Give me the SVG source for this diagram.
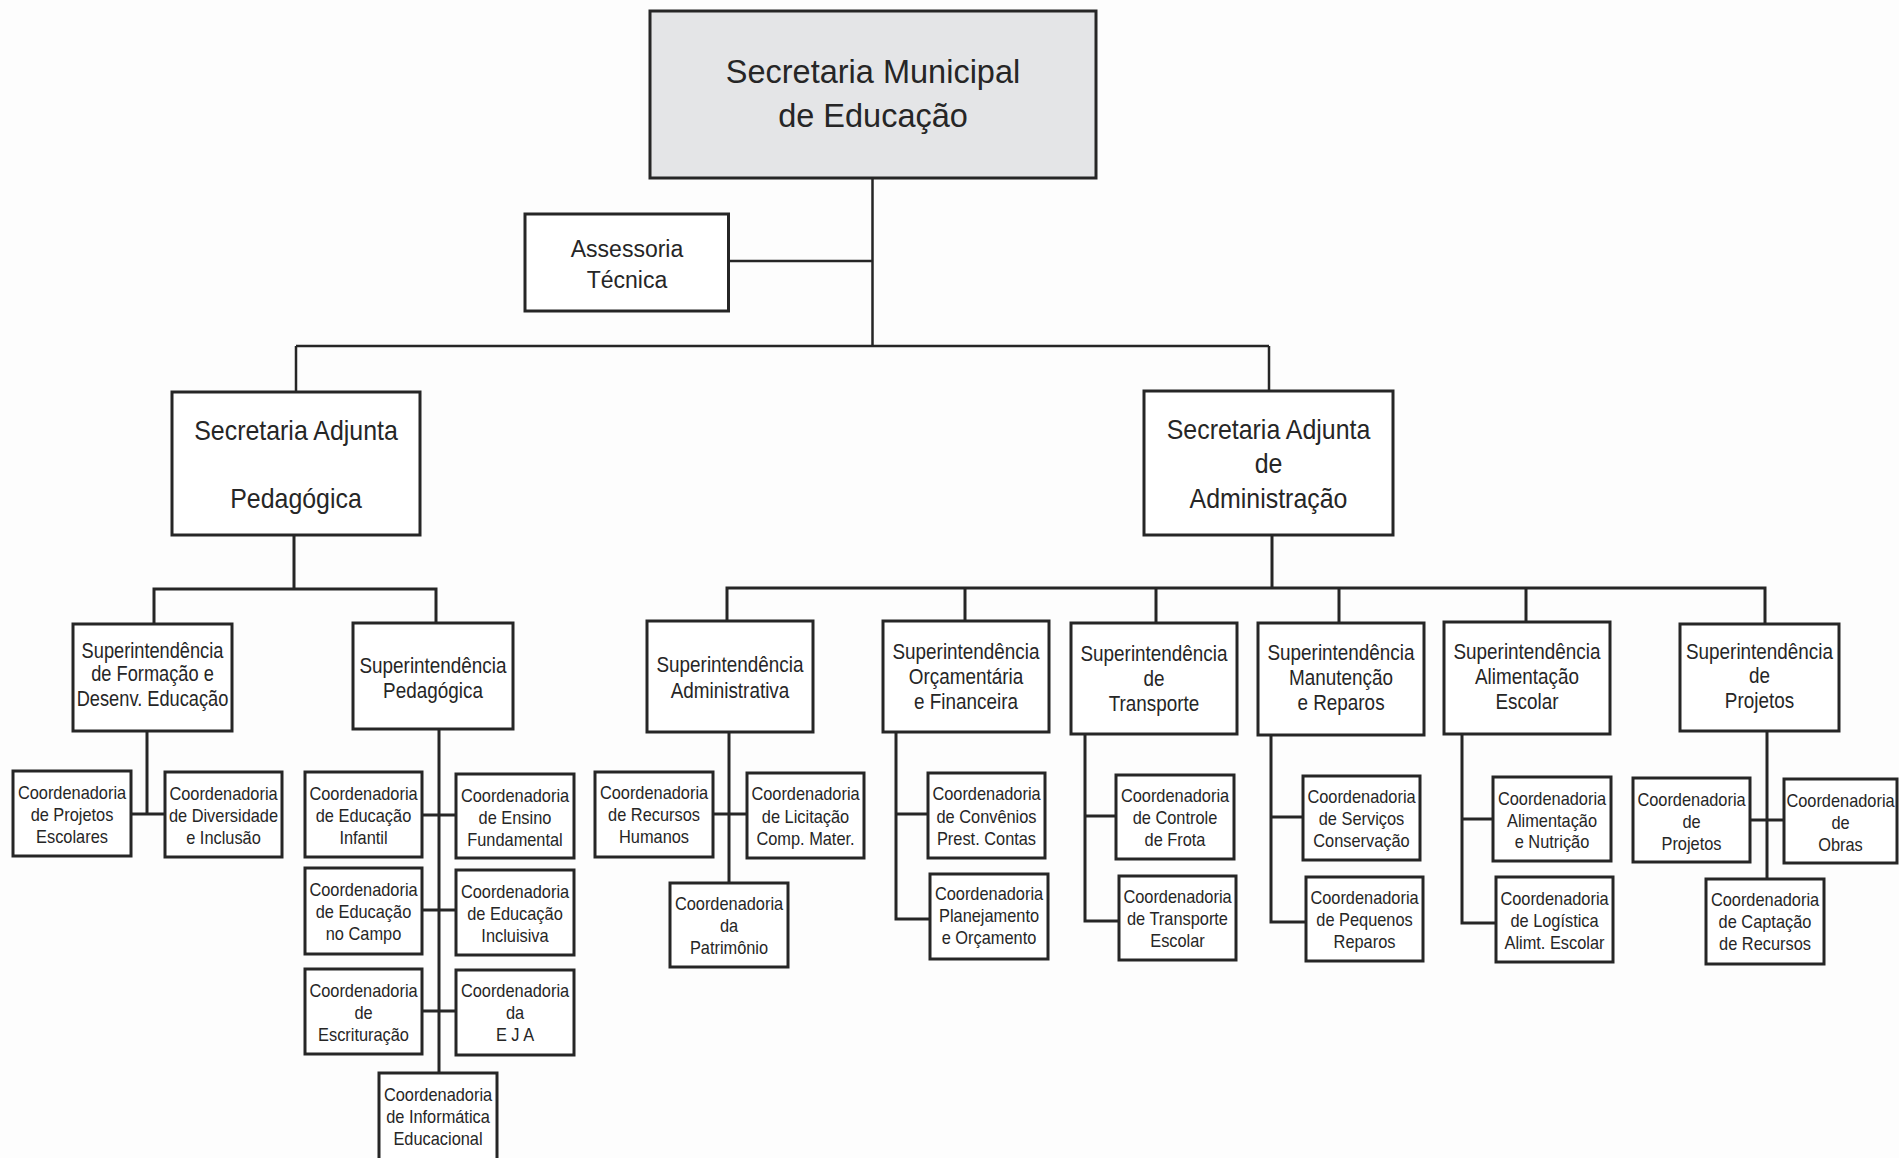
<svg xmlns="http://www.w3.org/2000/svg" width="1899" height="1158" viewBox="0 0 1899 1158">
<style>
.b{fill:#ffffff;stroke:#262626;stroke-width:3}
.top{fill:#e4e5e7;stroke:#262626;stroke-width:3}
.ln{stroke:#262626;stroke-width:3;fill:none;stroke-linecap:square}
.lt{stroke:#262626;stroke-width:2.5;fill:none}
text{font-family:"Liberation Sans",Arial,sans-serif;fill:#262626;text-anchor:middle}
.t1{font-size:32.5px}
.t2{font-size:23px}
.sa{font-size:28px}
.su{font-size:22.5px}
.co{font-size:18px}
</style>
<rect x="0" y="0" width="1899" height="1158" fill="#fdfdfd"/>
<g id="connectors">
<path class="lt" d="M872.5 178V346M728.5 261H872.5M296 346H1269M296 346V392M1269 346V391"/>
<path class="ln" d="M294 535V589M154 589H436M154 589V624M436 589V623"/>
<path class="ln" d="M1272 535V588M727 588H1765M727 588V621M965 588V621M1156 588V623M1339 588V623M1526 588V622M1765 588V624"/>
<path class="ln" d="M147 731V814M131 814H165"/>
<path class="ln" d="M439 729V1073M422 815H456M422 910H456M422 1011H456"/>
<path class="ln" d="M729 732V883M713 814H747"/>
<path class="ln" d="M896 732V919H930M896 814H928"/>
<path class="ln" d="M1085 734V921H1119M1085 816H1116"/>
<path class="ln" d="M1271 735V922H1306M1271 817H1303"/>
<path class="ln" d="M1462 734V923H1496M1462 819H1493"/>
<path class="ln" d="M1767 731V879M1750 820H1784"/>
</g>
<g id="n-sme"><rect class="top" x="650" y="11" width="446" height="167"/><text class="t1"><tspan x="873" y="83">Secretaria Municipal</tspan><tspan x="873" y="127">de Educação</tspan></text></g>
<g id="n-assessoria"><rect class="b" x="525" y="214" width="203.5" height="97"/><text class="t2"><tspan x="627" y="257">Assessoria</tspan><tspan x="627" y="288">Técnica</tspan></text></g>
<g id="n-sa-ped"><rect class="b" x="172" y="392" width="248" height="143"/><text class="sa" transform="matrix(0.89 0 0 1 296 0)"><tspan x="0" y="440">Secretaria Adjunta</tspan><tspan x="0" y="508">Pedagógica</tspan></text></g>
<g id="n-sa-adm"><rect class="b" x="1144" y="391" width="249" height="144"/><text class="sa" transform="matrix(0.89 0 0 1 1268.5 0)"><tspan x="0" y="439">Secretaria Adjunta</tspan><tspan x="0" y="473">de</tspan><tspan x="0" y="508">Administração</tspan></text></g>

<g id="n-sup-formacao"><rect class="b" x="73" y="624" width="159" height="107"/><text class="su" transform="matrix(0.81 0 0 1 152.5 0)"><tspan x="0" y="658">Superintendência</tspan><tspan x="0" y="681">de Formação e</tspan><tspan x="0" y="706">Desenv. Educação</tspan></text></g>
<g id="n-sup-ped"><rect class="b" x="353" y="623" width="160" height="106"/><text class="su" transform="matrix(0.84 0 0 1 433 0)"><tspan x="0" y="673">Superintendência</tspan><tspan x="0" y="698">Pedagógica</tspan></text></g>
<g id="n-sup-adm"><rect class="b" x="647" y="621" width="166" height="111"/><text class="su" transform="matrix(0.84 0 0 1 730 0)"><tspan x="0" y="672">Superintendência</tspan><tspan x="0" y="698">Administrativa</tspan></text></g>
<g id="n-sup-orc"><rect class="b" x="883" y="621" width="166" height="111"/><text class="su" transform="matrix(0.84 0 0 1 966 0)"><tspan x="0" y="659">Superintendência</tspan><tspan x="0" y="684">Orçamentária</tspan><tspan x="0" y="709">e Financeira</tspan></text></g>
<g id="n-sup-transp"><rect class="b" x="1071" y="623" width="166" height="111"/><text class="su" transform="matrix(0.84 0 0 1 1154 0)"><tspan x="0" y="661">Superintendência</tspan><tspan x="0" y="686">de</tspan><tspan x="0" y="711">Transporte</tspan></text></g>
<g id="n-sup-manut"><rect class="b" x="1258" y="623" width="166" height="112"/><text class="su" transform="matrix(0.84 0 0 1 1341 0)"><tspan x="0" y="660">Superintendência</tspan><tspan x="0" y="685">Manutenção</tspan><tspan x="0" y="710">e Reparos</tspan></text></g>
<g id="n-sup-alim"><rect class="b" x="1444" y="622" width="166" height="112"/><text class="su" transform="matrix(0.84 0 0 1 1527 0)"><tspan x="0" y="659">Superintendência</tspan><tspan x="0" y="684">Alimentação</tspan><tspan x="0" y="709">Escolar</tspan></text></g>
<g id="n-sup-proj"><rect class="b" x="1680" y="624" width="159" height="107"/><text class="su" transform="matrix(0.84 0 0 1 1759.5 0)"><tspan x="0" y="659">Superintendência</tspan><tspan x="0" y="683">de</tspan><tspan x="0" y="708">Projetos</tspan></text></g>

<g id="n-c-projesc"><rect class="b" x="13" y="771" width="118" height="85"/><text class="co" transform="matrix(0.91 0 0 1 72 0)"><tspan x="0" y="799">Coordenadoria</tspan><tspan x="0" y="821">de Projetos</tspan><tspan x="0" y="843">Escolares</tspan></text></g>
<g id="n-c-divers"><rect class="b" x="165" y="772" width="117" height="85"/><text class="co" transform="matrix(0.91 0 0 1 223.5 0)"><tspan x="0" y="800">Coordenadoria</tspan><tspan x="0" y="822">de Diversidade</tspan><tspan x="0" y="844">e Inclusão</tspan></text></g>
<g id="n-c-infantil"><rect class="b" x="305" y="772" width="117" height="85"/><text class="co" transform="matrix(0.91 0 0 1 363.5 0)"><tspan x="0" y="800">Coordenadoria</tspan><tspan x="0" y="822">de Educação</tspan><tspan x="0" y="844">Infantil</tspan></text></g>
<g id="n-c-fundamental"><rect class="b" x="456" y="774" width="118" height="84"/><text class="co" transform="matrix(0.91 0 0 1 515 0)"><tspan x="0" y="802">Coordenadoria</tspan><tspan x="0" y="824">de Ensino</tspan><tspan x="0" y="846">Fundamental</tspan></text></g>
<g id="n-c-campo"><rect class="b" x="305" y="868" width="117" height="86"/><text class="co" transform="matrix(0.91 0 0 1 363.5 0)"><tspan x="0" y="896">Coordenadoria</tspan><tspan x="0" y="918">de Educação</tspan><tspan x="0" y="940">no Campo</tspan></text></g>
<g id="n-c-inclusiva"><rect class="b" x="456" y="870" width="118" height="85"/><text class="co" transform="matrix(0.91 0 0 1 515 0)"><tspan x="0" y="898">Coordenadoria</tspan><tspan x="0" y="920">de Educação</tspan><tspan x="0" y="942">Incluisiva</tspan></text></g>
<g id="n-c-escrit"><rect class="b" x="305" y="969" width="117" height="85"/><text class="co" transform="matrix(0.91 0 0 1 363.5 0)"><tspan x="0" y="997">Coordenadoria</tspan><tspan x="0" y="1019">de</tspan><tspan x="0" y="1041">Escrituração</tspan></text></g>
<g id="n-c-eja"><rect class="b" x="456" y="970" width="118" height="85"/><text class="co" transform="matrix(0.91 0 0 1 515 0)"><tspan x="0" y="997">Coordenadoria</tspan><tspan x="0" y="1019">da</tspan><tspan x="0" y="1041">E J A</tspan></text></g>
<g id="n-c-informatica"><rect class="b" x="379" y="1073" width="118" height="88"/><text class="co" transform="matrix(0.91 0 0 1 438 0)"><tspan x="0" y="1101">Coordenadoria</tspan><tspan x="0" y="1123">de Informática</tspan><tspan x="0" y="1145">Educacional</tspan></text></g>

<g id="n-c-rh"><rect class="b" x="595" y="772" width="118" height="85"/><text class="co" transform="matrix(0.91 0 0 1 654 0)"><tspan x="0" y="799">Coordenadoria</tspan><tspan x="0" y="821">de Recursos</tspan><tspan x="0" y="843">Humanos</tspan></text></g>
<g id="n-c-licit"><rect class="b" x="747" y="773" width="117" height="85"/><text class="co" transform="matrix(0.91 0 0 1 805.5 0)"><tspan x="0" y="800">Coordenadoria</tspan><tspan x="0" y="823">de Licitação</tspan><tspan x="0" y="845">Comp. Mater.</tspan></text></g>
<g id="n-c-patrim"><rect class="b" x="670" y="883" width="118" height="84"/><text class="co" transform="matrix(0.91 0 0 1 729 0)"><tspan x="0" y="910">Coordenadoria</tspan><tspan x="0" y="932">da</tspan><tspan x="0" y="954">Patrimônio</tspan></text></g>
<g id="n-c-conv"><rect class="b" x="928" y="773" width="117" height="85"/><text class="co" transform="matrix(0.91 0 0 1 986.5 0)"><tspan x="0" y="800">Coordenadoria</tspan><tspan x="0" y="823">de Convênios</tspan><tspan x="0" y="845">Prest. Contas</tspan></text></g>
<g id="n-c-planej"><rect class="b" x="930" y="874" width="118" height="85"/><text class="co" transform="matrix(0.91 0 0 1 989 0)"><tspan x="0" y="900">Coordenadoria</tspan><tspan x="0" y="922">Planejamento</tspan><tspan x="0" y="944">e Orçamento</tspan></text></g>
<g id="n-c-frota"><rect class="b" x="1116" y="775" width="118" height="84"/><text class="co" transform="matrix(0.91 0 0 1 1175 0)"><tspan x="0" y="802">Coordenadoria</tspan><tspan x="0" y="824">de Controle</tspan><tspan x="0" y="846">de Frota</tspan></text></g>
<g id="n-c-transpesc"><rect class="b" x="1119" y="876" width="117" height="84"/><text class="co" transform="matrix(0.91 0 0 1 1177.5 0)"><tspan x="0" y="903">Coordenadoria</tspan><tspan x="0" y="925">de Transporte</tspan><tspan x="0" y="947">Escolar</tspan></text></g>
<g id="n-c-servicos"><rect class="b" x="1303" y="776" width="117" height="84"/><text class="co" transform="matrix(0.91 0 0 1 1361.5 0)"><tspan x="0" y="803">Coordenadoria</tspan><tspan x="0" y="825">de Serviços</tspan><tspan x="0" y="847">Conservação</tspan></text></g>
<g id="n-c-pequenos"><rect class="b" x="1306" y="877" width="117" height="84"/><text class="co" transform="matrix(0.91 0 0 1 1364.5 0)"><tspan x="0" y="904">Coordenadoria</tspan><tspan x="0" y="926">de Pequenos</tspan><tspan x="0" y="948">Reparos</tspan></text></g>
<g id="n-c-alimnut"><rect class="b" x="1493" y="777" width="118" height="84"/><text class="co" transform="matrix(0.91 0 0 1 1552 0)"><tspan x="0" y="805">Coordenadoria</tspan><tspan x="0" y="827">Alimentação</tspan><tspan x="0" y="848">e Nutrição</tspan></text></g>
<g id="n-c-logistica"><rect class="b" x="1496" y="877" width="117" height="85"/><text class="co" transform="matrix(0.91 0 0 1 1554.5 0)"><tspan x="0" y="905">Coordenadoria</tspan><tspan x="0" y="927">de Logística</tspan><tspan x="0" y="949">Alimt. Escolar</tspan></text></g>
<g id="n-c-projetos"><rect class="b" x="1633" y="778" width="117" height="84"/><text class="co" transform="matrix(0.91 0 0 1 1691.5 0)"><tspan x="0" y="806">Coordenadoria</tspan><tspan x="0" y="828">de</tspan><tspan x="0" y="850">Projetos</tspan></text></g>
<g id="n-c-obras"><rect class="b" x="1784" y="779" width="113" height="84"/><text class="co" transform="matrix(0.91 0 0 1 1840.5 0)"><tspan x="0" y="807">Coordenadoria</tspan><tspan x="0" y="829">de</tspan><tspan x="0" y="851">Obras</tspan></text></g>
<g id="n-c-captacao"><rect class="b" x="1706" y="879" width="118" height="85"/><text class="co" transform="matrix(0.91 0 0 1 1765 0)"><tspan x="0" y="906">Coordenadoria</tspan><tspan x="0" y="928">de Captação</tspan><tspan x="0" y="950">de Recursos</tspan></text></g>
</svg>
